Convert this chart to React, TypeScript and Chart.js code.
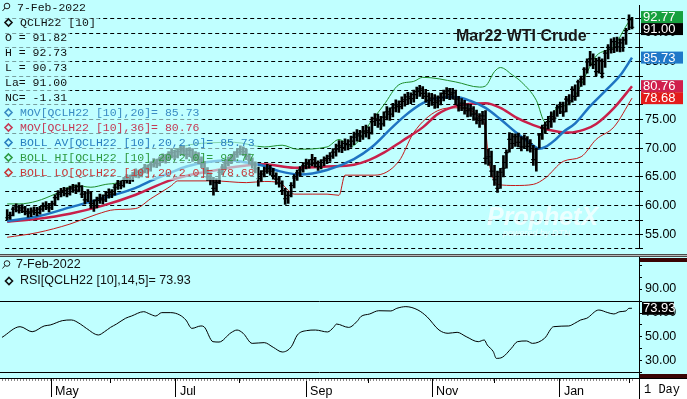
import React, { useEffect, useRef } from 'react';
import { Chart, registerables } from 'chart.js';

Chart.register(...registerables);

// ---------------- data ----------------
const lastDate = '7-Feb-2022';
const symbol = 'QCLH22 [10]';
const chartTitle = 'Mar22 WTI Crude';
const lastOpen = 91.82;
const barPeriod = '1 Day';

const closes = [
  57.9, 58.3, 59.4, 59.8, 59.2, 59.6, 59.0, 58.7, 58.9, 59.2,
  58.8, 59.4, 59.9, 60.0, 59.6, 60.3, 61.4, 62.0, 62.3, 62.6,
  62.1, 62.9, 63.2, 62.7, 63.3, 62.0, 61.0, 62.2, 60.4, 60.0,
  60.9, 61.3, 61.0, 61.8, 62.3, 62.0, 63.2, 63.8, 63.5, 64.4,
  64.8, 64.5, 65.3, 65.8, 65.4, 66.0, 66.6, 66.3, 67.1, 67.6,
  67.3, 68.0, 68.4, 68.1, 68.9, 69.2, 68.6, 69.4, 69.8, 69.5,
  68.9, 69.6, 68.4, 68.8, 68.0, 67.3, 66.2, 65.0, 64.6, 63.0,
  64.0, 65.8, 66.7, 67.4, 67.9, 68.3, 68.9, 69.3, 69.8, 69.4,
  68.6, 67.9, 67.2, 66.4, 64.7, 65.5, 66.0, 66.4, 66.0, 65.2,
  64.6, 63.9, 62.6, 61.2, 61.8, 63.5, 64.8, 65.7, 66.2, 66.9,
  67.4, 67.2, 68.0, 67.3, 66.8, 67.5, 67.9, 68.2, 68.6, 69.3,
  69.8, 70.4, 70.1, 70.8, 70.6, 71.2, 71.9, 72.3, 72.1, 72.8,
  73.0, 72.7, 74.6, 75.1, 74.8, 74.2, 75.4, 76.3, 75.9, 77.0,
  77.5, 77.2, 78.1, 78.4, 78.9, 78.6, 79.3, 79.8, 80.3, 79.5,
  79.0, 78.3, 78.7, 77.9, 78.2, 78.8, 79.5, 79.9, 79.3, 79.6,
  78.5, 77.4, 77.8, 77.0, 76.5, 76.8, 75.9, 75.2, 74.8, 75.6,
  68.2, 68.5, 66.0, 64.5, 63.0, 65.8, 66.5, 69.2, 71.5, 70.8,
  72.0, 71.0, 70.2, 71.6, 70.3, 70.8, 68.0, 69.8, 72.3, 73.5,
  74.0, 74.6, 75.5, 75.2, 77.0, 77.2, 76.3, 78.5, 78.2, 80.2,
  79.0, 81.5, 82.0, 83.7, 85.0, 85.5, 84.5, 83.3, 85.2, 83.0,
  86.5, 87.5, 87.2, 88.5, 87.6, 88.3, 88.8, 90.4, 92.31, 91.00,
];

const highs = [
  59.3, 58.9, 59.8, 60.3, 60.1, 60.2, 59.9, 59.5, 59.6, 59.8,
  59.7, 59.9, 60.5, 60.7, 60.4, 60.8, 61.9, 62.6, 63.0, 63.2,
  63.1, 63.4, 63.7, 63.6, 64.0, 63.5, 62.3, 62.8, 62.4, 61.0,
  61.5, 62.0, 61.9, 62.3, 62.9, 62.8, 63.7, 64.4, 64.3, 64.9,
  65.4, 65.3, 65.8, 66.4, 66.2, 66.5, 67.2, 67.1, 67.6, 68.2,
  68.1, 68.5, 69.0, 68.9, 69.4, 69.9, 69.6, 69.9, 70.5, 70.3,
  70.0, 70.1, 69.9, 69.4, 69.2, 68.5, 67.7, 66.6, 65.7, 64.9,
  64.7, 66.3, 67.2, 68.0, 68.5, 68.9, 69.4, 69.9, 70.4, 70.2,
  69.8, 69.0, 68.3, 67.6, 66.7, 66.1, 66.7, 67.2, 67.0, 66.5,
  65.7, 65.1, 64.3, 63.0, 62.5, 64.0, 65.4, 66.2, 66.8, 67.5,
  68.1, 68.0, 68.9, 68.4, 67.8, 68.0, 68.5, 68.8, 69.2, 69.9,
  70.7, 71.3, 71.2, 71.6, 71.5, 72.1, 72.8, 73.2, 73.1, 73.8,
  74.0, 73.7, 75.4, 76.0, 75.9, 75.5, 76.3, 77.2, 77.0, 77.8,
  78.4, 78.2, 78.9, 79.4, 79.7, 79.6, 80.1, 80.6, 80.9, 80.7,
  80.2, 79.6, 79.5, 79.3, 79.1, 79.6, 80.1, 80.5, 80.4, 80.4,
  80.1, 79.0, 78.6, 78.3, 77.7, 77.6, 77.2, 76.6, 76.0, 76.4,
  76.5, 69.8, 69.5, 67.0, 66.0, 66.5, 68.7, 69.7, 72.7, 72.5,
  72.5, 72.6, 72.0, 72.3, 72.0, 71.5, 70.5, 70.0, 72.5, 74.0,
  74.5, 75.5, 76.3, 76.5, 77.5, 78.0, 78.0, 79.0, 79.3, 80.7,
  81.0, 81.8, 82.5, 84.0, 85.5, 86.8, 86.4, 85.6, 85.8, 85.5,
  87.0, 88.0, 89.0, 89.2, 89.3, 89.0, 89.3, 90.8, 93.17, 92.73,
];

const lows = [
  57.5, 57.6, 58.2, 58.9, 58.7, 58.8, 58.4, 58.0, 58.1, 58.4,
  58.2, 58.5, 59.0, 59.3, 58.9, 59.3, 60.0, 61.0, 61.5, 61.7,
  61.5, 61.8, 62.3, 62.1, 62.4, 61.4, 60.3, 60.7, 59.5, 59.0,
  59.6, 60.4, 60.3, 60.7, 61.3, 61.4, 61.8, 62.8, 62.9, 63.2,
  63.9, 63.8, 64.2, 64.9, 64.8, 65.0, 65.7, 65.6, 66.0, 66.7,
  66.6, 66.9, 67.5, 67.4, 67.8, 68.3, 68.0, 68.3, 68.8, 68.7,
  68.1, 68.5, 67.7, 67.8, 67.3, 66.6, 65.5, 64.4, 63.6, 61.8,
  62.5, 63.8, 65.4, 66.3, 66.9, 67.3, 67.8, 68.4, 68.8, 68.7,
  68.0, 67.2, 66.5, 65.7, 63.4, 64.2, 65.0, 65.6, 65.3, 64.6,
  63.7, 63.2, 61.9, 60.2, 60.4, 61.5, 63.1, 64.4, 65.1, 65.8,
  66.4, 66.5, 66.9, 66.7, 66.1, 66.4, 66.9, 67.3, 67.7, 68.2,
  68.6, 69.3, 69.2, 69.6, 69.7, 70.1, 70.6, 71.2, 71.1, 71.5,
  71.9, 71.6, 72.4, 73.9, 73.6, 73.2, 73.8, 74.9, 74.8, 75.4,
  76.3, 76.2, 76.8, 77.3, 77.6, 77.7, 78.0, 78.6, 79.0, 78.6,
  78.0, 77.2, 77.4, 76.9, 77.0, 77.5, 78.2, 78.6, 78.4, 78.5,
  77.6, 76.4, 76.5, 75.9, 75.4, 75.5, 74.8, 74.2, 73.6, 74.1,
  67.2, 67.0, 65.0, 63.5, 62.3, 63.0, 65.0, 66.5, 69.3, 70.0,
  70.3, 70.2, 69.5, 70.0, 69.5, 69.3, 67.0, 66.0, 70.0, 71.5,
  72.7, 73.3, 73.6, 74.5, 75.5, 76.0, 75.5, 76.3, 77.5, 78.0,
  78.3, 79.0, 80.7, 81.0, 83.0, 84.3, 83.8, 82.6, 83.0, 82.2,
  84.0, 85.5, 86.5, 86.6, 86.8, 86.7, 86.8, 88.0, 90.6, 90.73,
];

const ma20Idx = [0, 10, 21, 32, 43, 48, 55, 60, 67, 74, 79, 86, 91, 98, 107, 116, 122, 128, 133, 139, 144, 150, 155, 160, 165, 170, 175, 178, 180, 183, 186, 190, 195, 200, 205, 209];
const ma20Val = [57.3, 58.1, 59.7, 61.3, 63.1, 64.3, 65.8, 66.8, 67.6, 67.9, 67.6, 66.9, 66.0, 65.4, 66.2, 68.1, 70.2, 73.2, 75.6, 77.8, 78.7, 78.9, 78.2, 77.0, 75.0, 72.8, 70.8, 69.9, 70.2, 71.3, 72.8, 74.3, 77.3, 79.9, 82.6, 85.73];

const ma36Idx = [0, 10, 21, 32, 43, 54, 60, 67, 76, 86, 96, 107, 116, 121, 126, 132, 139, 144, 150, 155, 160, 165, 170, 176, 181, 188, 193, 197, 203, 209];
const ma36Val = [57.2, 57.7, 58.6, 60.0, 61.9, 64.3, 65.2, 65.9, 66.7, 67.2, 66.6, 66.8, 67.1, 67.9, 69.2, 71.2, 73.6, 75.9, 77.3, 77.7, 77.8, 77.0, 75.4, 74.0, 73.2, 72.7, 73.2, 74.2, 77.0, 80.76];

const bbHiIdx = [0, 4, 10, 16, 23, 28, 33, 37, 44, 50, 59, 67, 76, 86, 92, 97, 107, 111, 115, 122, 126, 131, 136, 139, 150, 158, 160, 163, 165, 169, 172, 177, 180, 184, 188, 192, 194, 197, 203, 207, 209];
const bbHiVal = [60.3, 60.3, 60.8, 62.0, 63.5, 63.2, 63.7, 64.0, 66.0, 68.0, 70.3, 70.9, 71.0, 70.2, 70.5, 69.8, 70.2, 71.5, 70.3, 74.8, 77.5, 81.0, 81.6, 82.3, 81.5, 80.6, 80.8, 83.3, 84.0, 82.7, 81.5, 78.3, 74.5, 77.0, 77.7, 81.0, 83.2, 86.0, 87.7, 91.2, 92.77];

const bbLoIdx = [0, 10, 21, 30, 36, 43, 48, 52, 55, 57, 69, 80, 86, 91, 96, 102, 107, 111, 113, 123, 131, 136, 144, 150, 158, 160, 161, 164, 170, 176, 180, 186, 192, 197, 203, 209];
const bbLoVal = [54.5, 55.3, 56.8, 58.5, 59.3, 59.5, 61.2, 62.5, 63.5, 64.3, 64.3, 64.0, 64.2, 64.0, 62.0, 62.0, 62.0, 61.8, 65.3, 65.3, 67.7, 72.7, 76.5, 77.0, 75.3, 73.2, 68.2, 63.7, 63.5, 63.7, 64.8, 67.7, 68.5, 71.5, 73.7, 78.68];

const rsiIdx = [0, 6, 10, 14, 16, 20, 23, 26, 28, 32, 34, 36, 38, 41, 43, 47, 49, 51, 53, 56, 59, 61, 63, 66, 67, 70, 72, 76, 78, 80, 83, 87, 90, 93, 96, 98, 101, 104, 108, 110, 111, 115, 118, 119, 122, 125, 129, 131, 134, 138, 141, 145, 148, 151, 154, 158, 160, 161, 163, 164, 166, 169, 171, 174, 176, 180, 183, 188, 190, 192, 194, 198, 201, 203, 205, 207, 208, 209];
const rsiVal = [49.7, 58.6, 54.4, 59.2, 60.0, 63.6, 64.2, 60.8, 57.2, 51.7, 54.4, 58.0, 60.8, 65.6, 67.5, 71.1, 69.2, 67.5, 70.3, 70.3, 68.3, 64.2, 57.2, 59.2, 58.6, 46.1, 45.8, 53.6, 55.8, 53.1, 44.7, 45.3, 41.4, 37.5, 41.9, 51.7, 55.3, 55.8, 54.2, 58.0, 60.8, 58.0, 63.6, 66.9, 69.2, 71.9, 71.7, 73.9, 75.3, 72.5, 66.9, 55.8, 53.1, 53.9, 50.3, 46.1, 47.5, 43.3, 37.8, 32.2, 33.1, 40.6, 46.1, 46.7, 44.7, 48.9, 58.6, 59.2, 61.4, 64.2, 65.6, 72.5, 70.3, 69.2, 71.1, 71.7, 73.9, 73.93];

const monthIdx = [16.3, 35.8, 57.7, 78.6, 100.9, 121.4, 142.7, 163.2, 185.1, 208.0];
const monthLabels = ['May', '', 'Jul', '', 'Sep', '', 'Nov', '', 'Jan', ''];

const priceTicks = [52.5, 55, 57.5, 60, 62.5, 65, 67.5, 70, 72.5, 75, 77.5, 80, 82.5, 85, 87.5, 90, 92.5];
const rsiTicks = [20, 30, 40, 50, 60, 70, 80, 90, 100, 110];
const rsiLabeled = [30, 50, 70, 90];
const rsiBands = [80, 20];

// ---------------- styling ----------------
const BG = '#c0ffff';
const SANS = "'Liberation Sans', Arial, sans-serif";
const MONO = "'Liberation Mono', 'Courier New', monospace";
const X_MIN = -0.66;
const X_MAX = 211.34;
const AXIS_W = 48;

const fmt = (v: number) => v.toFixed(2);
const lastOf = (a: number[]) => a[a.length - 1];

function drawDiamond(ctx: CanvasRenderingContext2D, cx: number, cy: number, color: string) {
  ctx.save();
  ctx.strokeStyle = color;
  ctx.lineWidth = 1.6;
  ctx.beginPath();
  ctx.moveTo(cx, cy - 3.5);
  ctx.lineTo(cx + 3.5, cy);
  ctx.lineTo(cx, cy + 3.5);
  ctx.lineTo(cx - 3.5, cy);
  ctx.closePath();
  ctx.stroke();
  ctx.restore();
}

function drawMag(ctx: CanvasRenderingContext2D, x: number, cy: number) {
  ctx.save();
  ctx.strokeStyle = '#222';
  ctx.lineWidth = 1;
  ctx.beginPath();
  ctx.arc(x + 5, cy - 1.5, 2.8, 0, Math.PI * 2);
  ctx.stroke();
  ctx.beginPath();
  ctx.moveTo(x + 3, cy + 0.5);
  ctx.lineTo(x + 0.5, cy + 3.5);
  ctx.stroke();
  ctx.restore();
}

export default function App() {
  const mainRef = useRef<HTMLCanvasElement>(null);
  const rsiRef = useRef<HTMLCanvasElement>(null);

  useEffect(() => {
    document.body.style.margin = '0';
    const last = closes.length - 1;
    const pts = (xs: number[], ys: number[]) => xs.map((x, k) => ({ x, y: ys[k] }));

    const legendRows = [
      { text: lastDate, color: '#111', icon: 'mag', x: 17 },
      { text: symbol, color: '#111', icon: 'dia', x: 20 },
      { text: `O = ${fmt(lastOpen)}`, color: '#111', icon: '', x: 5 },
      { text: `H = ${fmt(highs[last])}`, color: '#111', icon: '', x: 5 },
      { text: `L = ${fmt(lows[last])}`, color: '#111', icon: '', x: 5 },
      { text: `La= ${fmt(closes[last])}`, color: '#111', icon: '', x: 5 },
      { text: `NC= ${fmt(closes[last] - closes[last - 1])}`, color: '#111', icon: '', x: 5 },
      { text: `MOV[${symbol},20]= ${fmt(lastOf(ma20Val))}`, color: '#3a8cc4', icon: 'dia', x: 20 },
      { text: `MOV[${symbol},36]= ${fmt(lastOf(ma36Val))}`, color: '#c43a55', icon: 'dia', x: 20 },
      { text: `BOLL AV[${symbol},20,2.0]= ${fmt(lastOf(ma20Val))}`, color: '#2a80c0', icon: 'dia', x: 20 },
      { text: `BOLL HI[${symbol},20,2.0]= ${fmt(lastOf(bbHiVal))}`, color: '#2e9a40', icon: 'dia', x: 20 },
      { text: `BOLL LO[${symbol},20,2.0]= ${fmt(lastOf(bbLoVal))}`, color: '#c83a3a', icon: 'dia', x: 20 },
    ];

    const mainPlugin = {
      id: 'mainDeco',
      beforeDraw(chart: any) {
        const { ctx, width, height } = chart;
        ctx.save();
        ctx.fillStyle = BG;
        ctx.fillRect(0, 0, width, height);
        ctx.restore();
      },
      afterDatasetsDraw(chart: any) {
        const { ctx } = chart;
        ctx.save();
        // watermark
        ctx.fillStyle = 'rgba(255,255,255,0.7)';
        ctx.font = `italic bold 25px ${SANS}`;
        ctx.textBaseline = 'alphabetic';
        ctx.fillText('ProphetX', 487, 225);
        ctx.font = `italic 9px ${SANS}`;
        ctx.fillText('powered by DTN', 503, 236);
        // title
        ctx.fillStyle = '#1a1a1a';
        ctx.font = `bold 16px ${SANS}`;
        ctx.fillText(chartTitle, 456, 41);
        // legend
        ctx.font = `11.5px ${MONO}`;
        ctx.textBaseline = 'middle';
        legendRows.forEach((r, k) => {
          const w = ctx.measureText(r.text).width;
          ctx.fillStyle = 'rgba(192,255,255,0.62)';
          ctx.fillRect(0, k * 15, r.x + w + 3, 15);
        });
        legendRows.forEach((r, k) => {
          const cy = 7.5 + k * 15;
          if (r.icon === 'mag') drawMag(ctx, 2, cy);
          if (r.icon === 'dia') drawDiamond(ctx, 8.5, cy, r.color);
          ctx.fillStyle = r.color;
          ctx.fillText(r.text, r.x, cy);
        });
        ctx.restore();
      },
      afterDraw(chart: any) {
        const { ctx } = chart;
        const ys = chart.scales.y;
        const items = [
          { v: lastOf(bbHiVal), bg: '#16a03e' },
          { v: closes[last], bg: '#000000' },
          { v: lastOf(ma20Val), bg: '#1f78c8' },
          { v: lastOf(ma36Val), bg: '#d01f4c' },
          { v: lastOf(bbLoVal), bg: '#e41b1b' },
        ].map((it) => ({ ...it, y: ys.getPixelForValue(it.v) })).sort((a, b) => a.y - b.y);
        let prevBottom = -Infinity;
        ctx.save();
        ctx.font = `13px ${SANS}`;
        ctx.textBaseline = 'middle';
        for (const it of items) {
          let top = it.y - 6;
          if (top < prevBottom) top = prevBottom;
          ctx.fillStyle = it.bg;
          ctx.fillRect(641, top, 42, 12);
          ctx.fillStyle = '#fff';
          ctx.fillText(fmt(it.v), 643, top + 6.5);
          prevBottom = top + 12;
        }
        ctx.restore();
      },
    };

    const mainChart = new Chart(mainRef.current as HTMLCanvasElement, {
      type: 'line',
      data: {
        datasets: [
          { label: 'BOLL LO', data: pts(bbLoIdx, bbLoVal), borderColor: '#c41a1a', borderWidth: 1, pointRadius: 0, cubicInterpolationMode: 'monotone', fill: false, order: 5 },
          { label: 'BOLL HI', data: pts(bbHiIdx, bbHiVal), borderColor: '#1c8c2a', borderWidth: 1, pointRadius: 0, cubicInterpolationMode: 'monotone', fill: false, order: 5 },
          { label: 'MOV36', data: pts(ma36Idx, ma36Val), borderColor: '#c8204a', borderWidth: 2.5, pointRadius: 0, cubicInterpolationMode: 'monotone', fill: false, order: 4 },
          { label: 'MOV20', data: pts(ma20Idx, ma20Val), borderColor: '#1e74c2', borderWidth: 2.5, pointRadius: 0, cubicInterpolationMode: 'monotone', fill: false, order: 3 },
          { type: 'bar', label: 'HL', data: closes.map((_, i) => ({ x: i, y: [lows[i], highs[i]] })), backgroundColor: '#000', borderWidth: 0, barThickness: 2, grouped: false, order: 1 } as any,
          { label: 'Close', data: closes.map((c, i) => ({ x: i, y: c })), showLine: false, pointStyle: 'line', pointRadius: 2.2, pointBorderWidth: 1.2, pointBorderColor: '#000', order: 0 } as any,
        ],
      } as any,
      options: {
        responsive: false,
        animation: false,
        events: [],
        layout: { padding: 0 },
        plugins: { legend: { display: false }, tooltip: { enabled: false } },
        scales: {
          x: { type: 'linear', min: X_MIN, max: X_MAX, display: false, offset: false },
          y: {
            position: 'right',
            min: 52.5,
            max: 94.8333,
            afterBuildTicks: (s: any) => { s.ticks = priceTicks.map((v) => ({ value: v })); },
            afterFit: (s: any) => { s.width = AXIS_W; s.paddingTop = 0; s.paddingBottom = 0; },
            ticks: {
              autoSkip: false,
              padding: 2,
              color: '#000',
              font: { family: SANS, size: 12.5 },
              callback: (v: any) => (Math.abs(Number(v) % 5) < 1e-6 ? Number(v).toFixed(2) : ''),
            },
            grid: { color: '#000', lineWidth: 1, tickLength: 4, tickColor: '#000', drawTicks: true },
            border: { display: true, color: '#000', width: 1, dash: [4, 3] },
          },
        },
      } as any,
      plugins: [mainPlugin],
    });

    const rsiPlugin = {
      id: 'rsiDeco',
      beforeDraw(chart: any) {
        const { ctx, width, height, chartArea } = chart;
        ctx.save();
        ctx.fillStyle = BG;
        ctx.fillRect(0, 0, width, chartArea.bottom);
        ctx.fillStyle = '#fff';
        ctx.fillRect(0, chartArea.bottom, width, height - chartArea.bottom);
        ctx.restore();
      },
      afterDraw(chart: any) {
        const { ctx, width, height, chartArea } = chart;
        const xs = chart.scales.x;
        const ys = chart.scales.y;
        const bottom = chartArea.bottom;
        ctx.save();
        // header
        ctx.textBaseline = 'middle';
        ctx.font = `12.5px ${SANS}`;
        ctx.fillStyle = '#111';
        drawMag(ctx, 2, 8);
        ctx.fillText(lastDate, 16, 8);
        drawDiamond(ctx, 9, 24, '#111');
        ctx.fillText(`RSI[${symbol},14,5]= ${fmt(lastOf(rsiVal))}`, 20, 24);
        // maroon scroll markers on the axis
        ctx.fillStyle = '#3a0404';
        ctx.fillRect(640, 1, width - 640, 4);
        ctx.fillRect(640, bottom - 4, width - 640, 4);
        // RSI value box
        const ry = ys.getPixelForValue(lastOf(rsiVal));
        ctx.fillStyle = '#000';
        ctx.fillRect(642, ry - 6.5, 32, 13);
        ctx.fillStyle = '#fff';
        ctx.font = `13px ${SANS}`;
        ctx.fillText(fmt(lastOf(rsiVal)), 643, ry + 0.5);
        // daily minor ticks
        ctx.fillStyle = '#8a8a8a';
        for (let i = 0; i < closes.length; i++) {
          const px = Math.round(xs.getPixelForValue(i));
          ctx.fillRect(px, bottom + 1, 1, 2);
        }
        // short ticks for unlabeled months
        ctx.fillStyle = '#000';
        monthIdx.forEach((v, k) => {
          if (!monthLabels[k]) {
            const px = Math.round(xs.getPixelForValue(v));
            ctx.fillRect(px, bottom, 1, 5);
          }
        });
        // corner box
        ctx.fillStyle = '#000';
        ctx.fillRect(0, bottom, width, 1);
        ctx.fillRect(639, bottom, 1, height - bottom);
        ctx.font = `12px ${MONO}`;
        ctx.fillText(barPeriod, 644, bottom + 12);
        ctx.restore();
      },
    };

    const rsiChart = new Chart(rsiRef.current as HTMLCanvasElement, {
      type: 'line',
      data: {
        datasets: [
          { label: 'RSI', data: pts(rsiIdx, rsiVal), borderColor: '#000', borderWidth: 1, pointRadius: 0, cubicInterpolationMode: 'monotone', fill: false },
        ],
      },
      options: {
        responsive: false,
        animation: false,
        events: [],
        layout: { padding: 0 },
        plugins: { legend: { display: false }, tooltip: { enabled: false } },
        scales: {
          x: {
            type: 'linear',
            position: 'bottom',
            min: X_MIN,
            max: X_MAX,
            offset: false,
            afterBuildTicks: (s: any) => { s.ticks = monthIdx.map((v) => ({ value: v })); },
            afterFit: (s: any) => { s.height = 21; s.paddingLeft = 0; s.paddingRight = 0; },
            ticks: {
              autoSkip: false,
              maxRotation: 0,
              minRotation: 0,
              align: 'start',
              labelOffset: 4,
              padding: -13,
              color: '#000',
              font: { family: SANS, size: 12.5 },
              callback: (_v: any, i: number) => monthLabels[i],
            },
            grid: {
              drawOnChartArea: false,
              drawTicks: true,
              tickLength: 19,
              offset: false,
              tickColor: (c: any) => (monthLabels[c.index] ? '#000' : 'rgba(0,0,0,0)'),
            },
            border: { display: true, color: '#000' },
          },
          y: {
            position: 'right',
            min: 15.833,
            max: 116.667,
            afterBuildTicks: (s: any) => { s.ticks = rsiTicks.map((v) => ({ value: v })); },
            afterFit: (s: any) => { s.width = AXIS_W; s.paddingTop = 0; s.paddingBottom = 0; },
            ticks: {
              autoSkip: false,
              padding: 3,
              color: '#000',
              font: { family: SANS, size: 12.5 },
              callback: (v: any) => (rsiLabeled.includes(Number(v)) ? Number(v).toFixed(2) : ''),
            },
            grid: {
              drawOnChartArea: true,
              drawTicks: true,
              tickLength: 3,
              tickColor: '#000',
              lineWidth: 1,
              color: (c: any) => (c.tick && rsiBands.includes(c.tick.value) ? '#000' : 'rgba(0,0,0,0)'),
            },
            border: { display: true, color: '#000' },
          },
        },
      } as any,
      plugins: [rsiPlugin],
    });

    return () => {
      mainChart.destroy();
      rsiChart.destroy();
    };
  }, []);

  return (
    <div style={{ position: 'absolute', left: 0, top: 0, width: 687, height: 399, background: '#fff', overflow: 'hidden' }}>
      <canvas ref={mainRef} width={687} height={254} style={{ position: 'absolute', left: 0, top: 0, width: 687, height: 254 }} />
      <div style={{ position: 'absolute', left: 0, top: 254, width: 687, height: 3, background: 'linear-gradient(#4a4a4a 0 1px, #b8b8b8 1px 2px, #4a4a4a 2px 3px)' }} />
      <canvas ref={rsiRef} width={687} height={142} style={{ position: 'absolute', left: 0, top: 257, width: 687, height: 142 }} />
    </div>
  );
}
